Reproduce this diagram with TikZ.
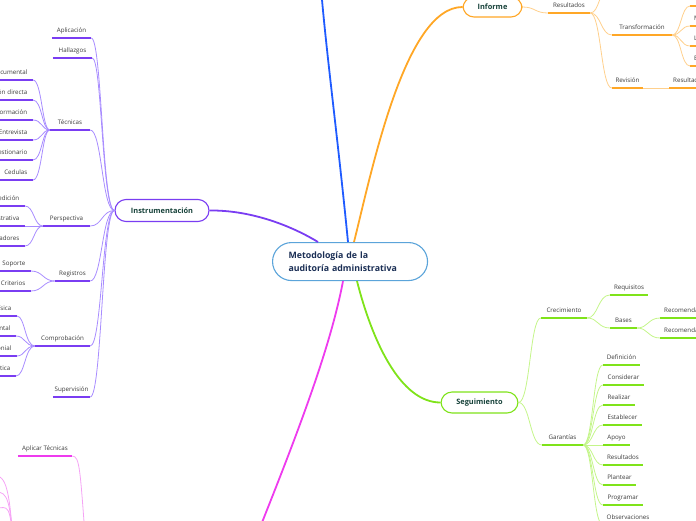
\documentclass[tikz,border=0pt]{standalone}
\usepackage{fontspec}
\setmainfont{Open Sans}
\usetikzlibrary{calc}
\definecolor{cenblue}{HTML}{5BA4DA}
\definecolor{cennavy}{HTML}{1B2F55}
\definecolor{topgreen}{HTML}{17423A}
\definecolor{labtxt}{HTML}{3A3A3A}
\definecolor{purmain}{HTML}{7A3DF2}
\definecolor{purline}{HTML}{A88CFF}
\definecolor{orgmain}{HTML}{FFA726}
\definecolor{orgline}{HTML}{FFD08C}
\definecolor{grnmain}{HTML}{7FE31A}
\definecolor{grnline}{HTML}{C4F58A}
\definecolor{magmain}{HTML}{EE3BEE}
\definecolor{magline}{HTML}{F5A3F5}
\definecolor{bluemain}{HTML}{1F5BFF}
\tikzset{
	central/.style={draw=cenblue, line width=1.1pt, fill=white, rounded corners=19pt, minimum width=155pt, minimum height=38pt, text width=123pt, align=left, inner xsep=16pt, font=\bfseries\fontsize{8.8}{13}\selectfont, text=cennavy},
	maintopic/.style={draw=#1, line width=1.1pt, fill=white, rounded corners=11pt, minimum height=22pt, font=\bfseries\fontsize{7.4}{9}\selectfont, text=topgreen},
	uline/.style={draw=#1, line width=2.2pt},
	topic/.style={font=\fontsize{6.2}{7}\selectfont, text=labtxt, anchor=south, inner xsep=0pt, inner ysep=4pt, text height=4.6pt, text depth=1.5pt,
		append after command={(\tikzlastnode.south west) edge[uline=#1] (\tikzlastnode.south east)}},
	cutl/.style={anchor=south east, text width=#1, align=right, inner xsep=5.5pt},
	cutr/.style={anchor=south west, text width=#1, align=left, inner xsep=4pt},
	branch/.style={draw=#1, line width=1.8pt},
	twig/.style={draw=#1, line width=0.8pt},
}
\begin{document}
\begin{tikzpicture}[x=1pt,y=-1pt]
	\useasboundingbox (0,0) rectangle (696,520);
	\clip (0,0) rectangle (696,520);
	
	% central idea and main topics
	\node[central, anchor=north west] (cen) at (272,242) {Metodología de la\\auditoría administrativa};
	\node[maintopic=purmain, minimum width=94pt] (ins) at (162,210.5) {Instrumentación};
	\node[maintopic=orgmain, minimum width=59pt, minimum height=20pt] (inf) at (492.5,7) {Informe};
	\node[maintopic=grnmain, minimum width=77pt, minimum height=21pt] (seg) at (479.5,402.5) {Seguimiento};
	\coordinate (blueend) at (321,-12);
	\coordinate (magend) at (255,540);
	
	% main branches
	\draw[branch=purmain] ($(cen.north west)+(46,0)$) .. controls (290,225) and (250,210) .. (ins.east);
	\draw[branch=bluemain] ($(cen.north west)+(76,0)$) .. controls (338,140) and (326,50) .. (blueend);
	\draw[branch=orgmain] ($(cen.north west)+(82,0)$) .. controls (372,170) and (405,7) .. (inf.west);
	\draw[branch=magmain] ($(cen.south west)+(71,0)$) .. controls (330,350) and (295,440) .. (magend);
	\draw[branch=grnmain] ($(cen.south west)+(85,0)$) .. controls (372,340) and (400,402.5) .. (seg.west);
	
	% Instrumentacion
	\node[topic=purmain, minimum width=39pt] (apl) at (71.5,38) {Aplicación};
	\node[topic=purmain, minimum width=39pt] (hal) at (72.5,58) {Hallazgos};
	\node[topic=purmain, minimum width=40pt] (tec) at (70,130) {Técnicas};
	\node[topic=purmain, minimum width=47pt] (per) at (66.5,226) {Perspectiva};
	\node[topic=purmain, minimum width=35pt] (reg) at (72.5,281) {Registros};
	\node[topic=purmain, minimum width=55pt] (com) at (62.5,346) {Comprobación};
	\node[topic=purmain, minimum width=37pt] (sup) at (71.5,397) {Supervisión};
	\foreach \n in {apl,hal,tec,per,reg,com,sup}
		\draw[twig=purline] (ins.west) .. controls (102,210.5) and (102,0 |- \n.south east) .. (\n.south east);
	
	\node[topic=purmain, cutl=70pt] (tec1) at (33,80) {Documental};
	\node[topic=purmain, cutl=70pt] (tec2) at (33,100) {Observación directa};
	\node[topic=purmain, cutl=70pt] (tec3) at (33,120) {Información};
	\node[topic=purmain, cutl=70pt] (tec4) at (33,140) {Entrevista};
	\node[topic=purmain, cutl=70pt] (tec5) at (33,160) {Cuestionario};
	\node[topic=purmain, cutl=70pt] (tec6) at (33,180) {Cedulas};
	\foreach \n in {tec1,tec2,tec3,tec4,tec5,tec6}
		\draw[twig=purline] (tec.south west) .. controls (42,130) and (42,0 |- \n.south east) .. (\n.south east);
	
	\node[topic=purmain, cutl=70pt] (per1) at (25,206) {Medición};
	\node[topic=purmain, cutl=70pt] (per2) at (25,226) {Administrativa};
	\node[topic=purmain, cutl=70pt] (per3) at (25,246) {Indicadores};
	\foreach \n in {per1,per2,per3}
		\draw[twig=purline] (per.south west) .. controls (34,226) and (34,0 |- \n.south east) .. (\n.south east);
	
	\node[topic=purmain, cutl=70pt] (reg1) at (31,271) {Soporte};
	\node[topic=purmain, cutl=70pt] (reg2) at (31,291) {Criterios};
	\foreach \n in {reg1,reg2}
		\draw[twig=purline] (reg.south west) .. controls (43,281) and (43,0 |- \n.south east) .. (\n.south east);
	
	\node[topic=purmain, cutl=70pt] (com1) at (17,316) {Física};
	\node[topic=purmain, cutl=70pt] (com2) at (16,336) {Documental};
	\node[topic=purmain, cutl=70pt] (com3) at (17,356) {Testimonial};
	\node[topic=purmain, cutl=70pt] (com4) at (16,376) {Analítica};
	\foreach \n in {com1,com2,com3,com4}
		\draw[twig=purline] (com.south west) .. controls (25,346) and (25,0 |- \n.south east) .. (\n.south east);
	
	% Informe
	\node[topic=orgmain, minimum width=42pt] (res) at (569,13) {Resultados};
	\node[topic=orgmain, minimum width=60pt] (tra) at (642,35) {Transformación};
	\node[topic=orgmain, minimum width=31pt] (rev) at (627.5,88) {Revisión};
	\node[topic=orgmain, cutr=70pt] (rev1) at (669,88) {Resultados};
	\coordinate (resup) at (612,-14);
	\draw[twig=orgline] (inf.east) .. controls (535,7) and (535,13) .. (res.south west);
	\draw[twig=orgline] (res.south east) .. controls (600,13) and (598,-12) .. (resup);
	\foreach \n in {tra,rev}
		\draw[twig=orgline] (res.south east) .. controls (601,13) and (601,0 |- \n.south west) .. (\n.south west);
	\node[topic=orgmain, cutr=70pt] (tra1) at (690,6) {Objetivos};
	\node[topic=orgmain, cutr=70pt] (tra2) at (690,26) {Medidas};
	\node[topic=orgmain, cutr=70pt] (tra3) at (690,46) {Logros};
	\node[topic=orgmain, cutr=70pt] (tra4) at (690,66) {Estrategias};
	\foreach \n in {tra1,tra2,tra3,tra4}
		\draw[twig=orgline] (tra.south east) .. controls (681,35) and (681,0 |- \n.south west) .. (\n.south west);
	\draw[twig=orgline] (rev.south east) -- (rev1.south west);
	
	% Seguimiento
	\node[topic=grnmain, minimum width=46pt] (cre) at (564,318) {Crecimiento};
	\node[topic=grnmain, minimum width=41pt] (gar) at (562.5,445) {Garantías};
	\foreach \n in {cre,gar}
		\draw[twig=grnline] (seg.east) .. controls (530,402.5) and (530,0 |- \n.south west) .. (\n.south west);
	\node[topic=grnmain, minimum width=38pt] (req) at (629,295) {Requisitos};
	\node[topic=grnmain, minimum width=27pt] (bas) at (623.5,328) {Bases};
	\foreach \n in {req,bas}
		\draw[twig=grnline] (cre.south east) .. controls (598,318) and (598,0 |- \n.south west) .. (\n.south west);
	\node[topic=grnmain, cutr=70pt] (bas1) at (660,318) {Recomendaciones};
	\node[topic=grnmain, cutr=70pt] (bas2) at (660,338) {Recomendaciones};
	\foreach \n in {bas1,bas2}
		\draw[twig=grnline] (bas.south east) .. controls (648,328) and (648,0 |- \n.south west) .. (\n.south west);
	\node[topic=grnmain, minimum width=37pt] (gar1) at (621.5,365) {Definición};
	\node[topic=grnmain, minimum width=41pt] (gar2) at (623.5,385) {Considerar};
	\node[topic=grnmain, minimum width=32pt] (gar3) at (619,405) {Realizar};
	\node[topic=grnmain, minimum width=39pt] (gar4) at (622.5,425) {Establecer};
	\node[topic=grnmain, minimum width=27pt] (gar5) at (616.5,445) {Apoyo};
	\node[topic=grnmain, minimum width=40pt] (gar6) at (623,465) {Resultados};
	\node[topic=grnmain, minimum width=33pt] (gar7) at (619.5,485) {Plantear};
	\node[topic=grnmain, minimum width=40pt] (gar8) at (623,505) {Programar};
	\node[topic=grnmain, minimum width=50pt] (gar9) at (628,525) {Observaciones};
	\foreach \n in {gar1,gar2,gar3,gar4,gar5,gar6,gar7,gar8,gar9}
		\draw[twig=grnline] (gar.south east) .. controls (593,445) and (593,0 |- \n.south west) .. (\n.south west);
	
	% magenta branch
	\node[topic=magmain, minimum width=54pt] (apt) at (45,456) {Aplicar Técnicas};
	\coordinate (aptsrc) at (86,548);
	\draw[twig=magline] (aptsrc) .. controls (80,470) and (80,456) .. (apt.south east);
	\coordinate (blsrc) at (14,552);
	\coordinate (bl1) at (-4,476);
	\coordinate (bl2) at (-4,492);
	\coordinate (bl3) at (-4,508);
	\foreach \n in {bl1,bl2,bl3}
		\draw[twig=magline] (blsrc) .. controls (10,500) and (8,0 |- \n) .. (\n);
\end{tikzpicture}
\end{document}
